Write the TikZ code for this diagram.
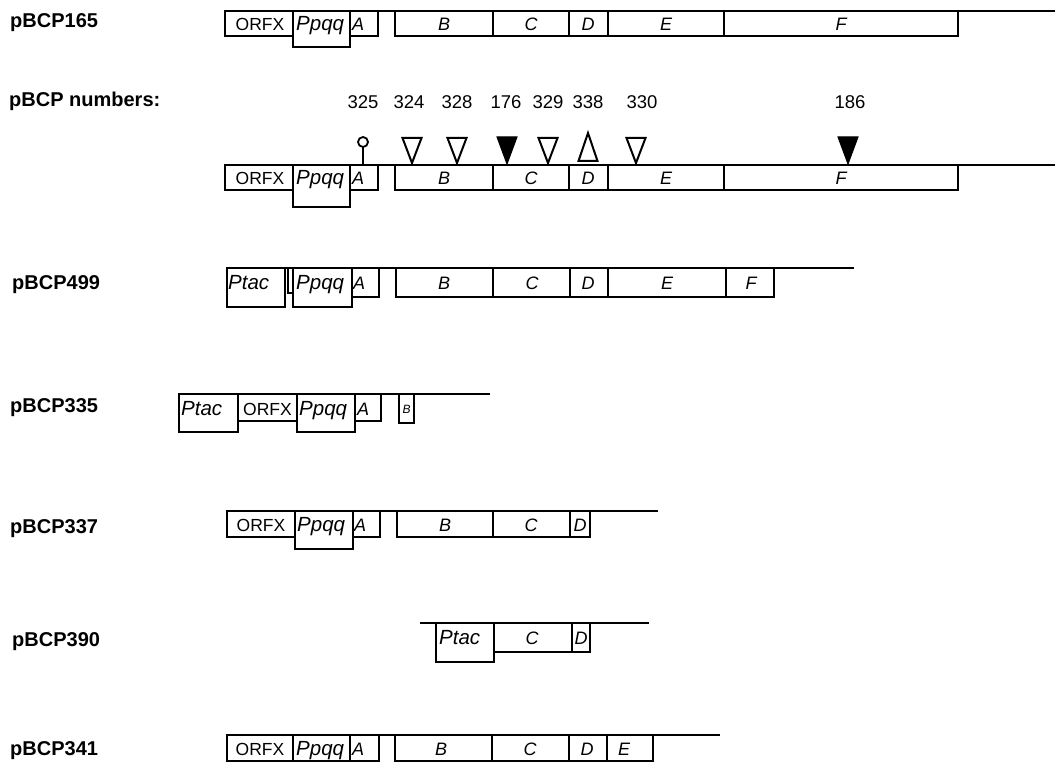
\documentclass[tikz,border=0pt]{standalone}
\usepackage{fontspec}
\setmainfont{Liberation Sans}
\newcommand\labfont{\bfseries\fontsize{20}{23}\selectfont}
\newcommand\capfont{\fontsize{17.5}{20}\selectfont}
\newcommand\letfont{\itshape\fontsize{18}{20}\selectfont}
\newcommand\wordfont{\itshape\fontsize{20.5}{22}\selectfont}
\newcommand\numfont{\fontsize{18.5}{21}\selectfont}
\newcommand\gbx[4]{\draw[gbox] (#1,#3) rectangle (#2,#4);}
\tikzset{
  seg/.style={line width=2.4pt},
  gbox/.style={draw, line width=2.1pt},
  captxt/.style={font=\capfont, inner sep=0pt, anchor=base},
  lettxt/.style={font=\letfont, inner sep=0pt, anchor=base},
  wordtxt/.style={font=\wordfont, inner sep=0pt, anchor=base west},
  letwtxt/.style={font=\letfont, inner sep=0pt, anchor=base west},
  rowlab/.style={font=\labfont, anchor=base west, inner sep=0pt},
  numtxt/.style={font=\numfont, inner sep=0pt},
  opentri/.style={draw, line width=2pt, fill=white, line join=miter},
  filltri/.style={draw, fill=black, line width=1pt, line join=miter},
}
\begin{document}
\begin{tikzpicture}[x=1pt,y=-1pt]
\useasboundingbox (0,0) rectangle (1055,765);

% ---------- labels ----------
\node[rowlab] (l165) at (10,28) {pBCP165};
\node[rowlab] (lnum) at (9,107) {pBCP numbers:};
\node[rowlab] (l499) at (12,289) {pBCP499};
\node[rowlab] (l335) at (10,412) {pBCP335};
\node[rowlab] (l337) at (10,533) {pBCP337};
\node[rowlab] (l390) at (12,646) {pBCP390};
\node[rowlab] (l341) at (10,755) {pBCP341};

% ---------- row 1: pBCP165 ----------
\draw[seg] (225,11) -- (1055,11);
\gbx{225}{293}{11}{36}\gbx{293}{350}{11}{47}\gbx{350}{378}{11}{36}
\gbx{395}{493}{11}{36}\gbx{493}{569}{11}{36}\gbx{569}{608}{11}{36}
\gbx{608}{724}{11}{36}\gbx{724}{958}{11}{36}
\node[captxt] (a1) at (260,31) {ORFX};
\node[wordtxt] (a2) at (296,31) {Ppqq};
\node[letwtxt] (a3) at (352,31) {A};
\node[lettxt] (a4) at (444,31) {B};
\node[lettxt] (a5) at (531,31) {C};
\node[lettxt] (a6) at (588,31) {D};
\node[lettxt] (a7) at (666,31) {E};
\node[lettxt] (a8) at (841,31) {F};

% ---------- row 2: pBCP numbers ----------
\node[numtxt] (n325) at (363,102) {325};
\node[numtxt] (n324) at (409,102) {324};
\node[numtxt] (n328) at (457,102) {328};
\node[numtxt] (n176) at (506,102) {176};
\node[numtxt] (n329) at (548,102) {329};
\node[numtxt] (n338) at (588,102) {338};
\node[numtxt] (n330) at (642,102) {330};
\node[numtxt] (n186) at (850,102) {186};
\draw[seg] (225,165) -- (1055,165);
\gbx{225}{293}{165}{190}\gbx{293}{350}{165}{207}\gbx{350}{378}{165}{190}
\gbx{395}{493}{165}{190}\gbx{493}{569}{165}{190}\gbx{569}{608}{165}{190}
\gbx{608}{724}{165}{190}\gbx{724}{958}{165}{190}
\node[captxt] (b1) at (260,185) {ORFX};
\node[wordtxt] (b2) at (296,185) {Ppqq};
\node[letwtxt] (b3) at (352,185) {A};
\node[lettxt] (b4) at (444,185) {B};
\node[lettxt] (b5) at (531,185) {C};
\node[lettxt] (b6) at (588,185) {D};
\node[lettxt] (b7) at (666,185) {E};
\node[lettxt] (b8) at (841,185) {F};
% markers
\draw[line width=1.8pt] (363,147) -- (363,165);
\draw[line width=1.8pt, fill=white] (363,142) circle (5);
\foreach \x in {412,457,548,636}
  \draw[opentri] (\x-9.5,138) -- (\x+9.5,138) -- (\x,163) -- cycle;
\foreach \x in {507,848}
  \draw[filltri] (\x-10,137) -- (\x+10,137) -- (\x,164) -- cycle;
\draw[opentri] (588-9.5,161) -- (588+9.5,161) -- (588,133) -- cycle;

% ---------- row 3: pBCP499 ----------
\draw[seg] (227,268) -- (854,268);
\gbx{227}{285}{268}{307}\gbx{288}{293}{268}{293}\gbx{293}{352}{268}{307}
\gbx{352}{379}{268}{297}\gbx{396}{493}{268}{297}\gbx{493}{570}{268}{297}
\gbx{570}{608}{268}{297}\gbx{608}{726}{268}{297}\gbx{726}{774}{268}{297}
\node[wordtxt] (c1) at (228,289) {Ptac};
\node[wordtxt] (c2) at (296,289) {Ppqq};
\node[letwtxt] (c3) at (353,289) {A};
\node[lettxt] (c4) at (444,289) {B};
\node[lettxt] (c5) at (532,289) {C};
\node[lettxt] (c6) at (588,289) {D};
\node[lettxt] (c7) at (667,289) {E};
\node[lettxt] (c8) at (751,289) {F};

% ---------- row 4: pBCP335 ----------
\draw[seg] (179,394) -- (490,394);
\gbx{179}{238}{394}{432}\gbx{238}{297}{394}{421}\gbx{297}{355}{394}{432}
\gbx{355}{381}{394}{421}\gbx{399}{414}{394}{423}
\node[wordtxt] (d1) at (181,415) {Ptac};
\node[captxt] (d2) at (267.5,415) {ORFX};
\node[wordtxt] (d3) at (299,415) {Ppqq};
\node[letwtxt] (d4) at (357,415) {A};
\node[font=\itshape\fontsize{12}{14}\selectfont, inner sep=0pt, anchor=base] (d5) at (406.5,413) {B};

% ---------- row 5: pBCP337 ----------
\draw[seg] (227,511) -- (658,511);
\gbx{227}{295}{511}{537}\gbx{295}{353}{511}{549}\gbx{353}{380}{511}{537}
\gbx{397}{493}{511}{537}\gbx{493}{570}{511}{537}\gbx{570}{590}{511}{537}
\node[captxt] (e1) at (261,531) {ORFX};
\node[wordtxt] (e2) at (297,531) {Ppqq};
\node[letwtxt] (e3) at (354,531) {A};
\node[lettxt] (e4) at (445,531) {B};
\node[lettxt] (e5) at (531,531) {C};
\node[lettxt] (e6) at (580,531) {D};

% ---------- row 6: pBCP390 ----------
\draw[seg] (420,623) -- (649,623);
\gbx{436}{494}{623}{662}\gbx{494}{572}{623}{652}\gbx{572}{590}{623}{652}
\node[wordtxt] (f1) at (439,644) {Ptac};
\node[lettxt] (f2) at (532,644) {C};
\node[lettxt] (f3) at (581,644) {D};

% ---------- row 7: pBCP341 ----------
\draw[seg] (227,735) -- (720,735);
\gbx{227}{293}{735}{761}\gbx{293}{350}{735}{761}\gbx{350}{379}{735}{761}
\gbx{395}{492}{735}{761}\gbx{492}{569}{735}{761}\gbx{569}{607}{735}{761}
\gbx{607}{653}{735}{761}
\node[captxt] (g1) at (260,755) {ORFX};
\node[wordtxt] (g2) at (296,755) {Ppqq};
\node[letwtxt] (g3) at (352,755) {A};
\node[lettxt] (g4) at (441,755) {B};
\node[lettxt] (g5) at (530,755) {C};
\node[lettxt] (g6) at (587,755) {D};
\node[lettxt] (g7) at (624,755) {E};
\end{tikzpicture}
\end{document}
